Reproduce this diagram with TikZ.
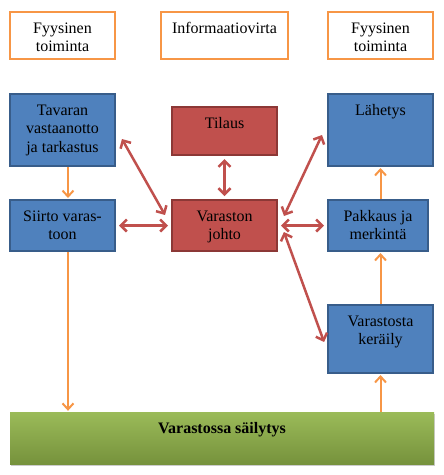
\documentclass[tikz,border=0pt]{standalone}
\usepackage{fontspec}
\setmainfont{Liberation Serif}
\usetikzlibrary{arrows.meta,shadows}

\definecolor{orangeline}{HTML}{F79646}
\definecolor{bluefill}{HTML}{4F81BD}
\definecolor{blueline}{HTML}{385D8A}
\definecolor{redfill}{HTML}{C0504D}
\definecolor{redline}{HTML}{8C3836}
\definecolor{greentop}{HTML}{9BBB59}
\definecolor{greenbottom}{HTML}{76923C}

\newcommand{\boxtext}[3]{\parbox[c][#2][t]{#1}{\centering\rule{0pt}{21pt}#3}}

\begin{document}
\begin{tikzpicture}[x=1pt,y=-1pt,
  every node/.style={font=\fontsize{16}{18.5}\selectfont, inner sep=0pt},
  titlebox/.style={draw=orangeline, line width=2pt, fill=white},
  physbox/.style={draw=blueline, line width=2pt, fill=bluefill},
  infobox/.style={draw=redline, line width=2pt, fill=redfill},
  infoflow/.style={draw=redfill, line width=2.5pt, shorten <=3pt, shorten >=3pt,
    {Straight Barb[length=6pt,width=12pt]}-{Straight Barb[length=6pt,width=12pt]}},
  physflow/.style={draw=orangeline, line width=2pt, shorten >=1pt,
    -{Straight Barb[length=6pt,width=11pt]}}]

\def\WIDTH{105pt}

\useasboundingbox (0,0) rectangle (444,475);

% headings
\node[titlebox] (fys1) at (62.5,35.5) {\boxtext{\WIDTH}{47pt}{Fyysinen\\toiminta}};
\node[titlebox] (info) at (224.5,35.5) {\boxtext{127pt}{47pt}{Informaatiovirta}};
\node[titlebox] (fys2) at (380.5,35.5) {\boxtext{\WIDTH}{47pt}{Fyysinen\\toiminta}};

% physical flow
\node[physbox] (tava) at (62.5,130) {\boxtext{\WIDTH}{72pt}{Tavaran\\vastaanotto\\ja tarkastus}};
\node[physbox] (siirto) at (62.5,225.5) {\boxtext{\WIDTH}{51pt}{Siirto varas-\\toon}};
\node[physbox] (lahetys) at (380.5,130) {\boxtext{\WIDTH}{72pt}{Lähetys}};
\node[physbox] (pakkaus) at (378,225.5) {\boxtext{100pt}{51pt}{Pakkaus ja\\merkintä}};
\node[physbox] (keraily) at (380.5,339) {\boxtext{\WIDTH}{68pt}{Varastosta\\keräily}};
\node[top color=greentop, bottom color=greenbottom,
  drop shadow={shadow xshift=1pt, shadow yshift=-2pt, opacity=0.4}] (green) at (222,438)
  {\boxtext{424pt}{52pt}{\bfseries Varastossa säilytys}};

% information flow
\node[infobox] (tilaus) at (224.5,131) {\boxtext{\WIDTH}{48pt}{Tilaus}};
\node[infobox] (johto) at (224.5,225.5) {\boxtext{\WIDTH}{51pt}{Varaston\\johto}};

\draw[infoflow] (tilaus) -- (johto);
\draw[infoflow] (siirto) -- (johto);
\draw[infoflow] (johto) -- (pakkaus);
\draw[infoflow] ([xshift=4.5pt,yshift=-6.4pt]tava.east) -- ([xshift=-4.5pt,yshift=-18.6pt]johto.north west);
\draw[infoflow] ([xshift=-3.7pt,yshift=-2.3pt]lahetys.west) -- ([xshift=4.7pt,yshift=-19.7pt]johto.north east);
\draw[infoflow] ([xshift=-1.9pt,yshift=-5.8pt]keraily.west) -- ([xshift=4.9pt,yshift=-3.7pt]johto.east);

% goods
\coordinate (tavadown) at ([xshift=5.5pt]tava.south);
\coordinate (siirtodown) at ([xshift=5.5pt]siirto.south);
\draw[physflow] (tavadown) -- (tavadown |- siirto.north);
\draw[physflow] (siirtodown) -- (siirtodown |- green.north);
\draw[physflow] (keraily.south |- green.north) -- (keraily.south);
\draw[physflow] (keraily.north) -- (keraily.north |- pakkaus.south);
\draw[physflow] (lahetys.south |- pakkaus.north) -- (lahetys.south);

\end{tikzpicture}
\end{document}
